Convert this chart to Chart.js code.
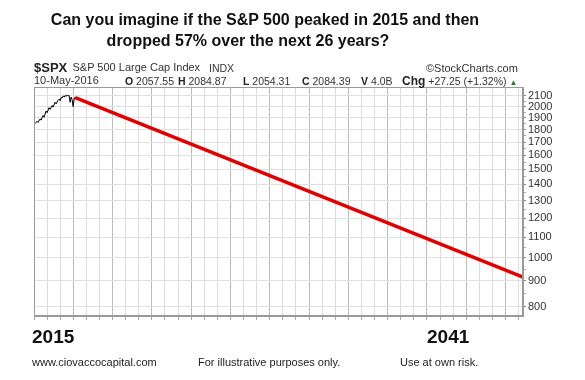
<!DOCTYPE html>
<html>
<head>
<meta charset="utf-8">
<script src="https://cdn.jsdelivr.net/npm/chart.js@4.4.1/dist/chart.umd.min.js"></script>
<style>
  html, body { margin: 0; padding: 0; background: #fff; }
  #wrap { position: relative; width: 585px; height: 380px; overflow: hidden; font-family: "Liberation Sans", Arial, sans-serif; }
  canvas { position: absolute; left: 0; top: 0; }
  .t { position: absolute; white-space: nowrap; line-height: 1; color: #111; }
  .b { font-weight: bold; }
  .h { color: #333; }
</style>
</head>
<body>
<div id="wrap">
  <canvas id="c" width="585" height="380"></canvas>
  <div class="t b" style="left:0;width:530px;text-align:center;top:11.5px;font-size:16px;">Can you imagine if the S&amp;P 500 peaked in 2015 and then</div>
  <div class="t b" style="left:0;width:496px;text-align:center;top:33px;font-size:16px;">dropped 57% over the next 26 years?</div>

  <div class="t b h" style="left:34px;top:60.5px;font-size:13px;color:#222;">$SPX</div>
  <div class="t h" style="left:72.5px;top:62px;font-size:11px;">S&amp;P 500 Large Cap Index</div>
  <div class="t h" style="left:209px;top:62.5px;font-size:10.5px;">INDX</div>
  <div class="t h" style="left:426px;top:62.5px;font-size:11px;">©StockCharts.com</div>

  <div class="t h" style="left:34px;top:75px;font-size:11px;">10-May-2016</div>
  <div class="t h" style="left:125px;top:75.5px;font-size:10.5px;"><b style="color:#222">O</b> 2057.55</div>
  <div class="t h" style="left:178px;top:75.5px;font-size:10.5px;"><b style="color:#222">H</b> 2084.87</div>
  <div class="t h" style="left:243px;top:75.5px;font-size:10.5px;"><b style="color:#222">L</b> 2054.31</div>
  <div class="t h" style="left:302px;top:75.5px;font-size:10.5px;"><b style="color:#222">C</b> 2084.39</div>
  <div class="t h" style="left:361px;top:75.5px;font-size:10.5px;"><b style="color:#222">V</b> 4.0B</div>
  <div class="t h" style="left:402px;top:74.5px;font-size:10.5px;"><b style="color:#222;font-size:12px;">Chg</b> +27.25 (+1.32%) <span style="color:#2a7a2a;font-size:8px;">▲</span></div>

  <div class="t b" style="left:32px;top:327px;font-size:19px;">2015</div>
  <div class="t b" style="left:427px;top:327px;font-size:19px;">2041</div>

  <div class="t" style="left:32px;top:357px;font-size:11px;color:#222;">www.ciovaccocapital.com</div>
  <div class="t" style="left:198px;top:357px;font-size:11px;color:#222;">For illustrative purposes only.</div>
  <div class="t" style="left:400px;top:357px;font-size:11px;color:#222;">Use at own risk.</div>
</div>
<script>
// ---- data ----
const histDates = [2014.06, 2014.17, 2014.23, 2014.35, 2014.40, 2014.52, 2014.58, 2014.69, 2014.75, 2014.86,
  2014.92, 2015.04, 2015.09, 2015.21, 2015.27, 2015.38, 2015.44, 2015.50, 2015.55, 2015.61,
  2015.67, 2015.73, 2015.78, 2015.84, 2015.90, 2015.96, 2016.01, 2016.07, 2016.13, 2016.19,
  2016.24, 2016.30, 2016.36];
const histValues = [1850, 1870, 1860, 1890, 1880, 1920, 1905, 1960, 1945, 1990,
  1975, 2010, 1995, 2040, 2025, 2060, 2070, 2055, 2085, 2080,
  2100, 2090, 2105, 2095, 2110, 2100, 2105, 2040, 2090, 2060,
  2000, 2070, 2090];
const projDates = [2016.36, 2042.0];
const projValues = [2084.39, 915];
const yTickValues = [2100, 2000, 1900, 1800, 1700, 1600, 1500, 1400, 1300, 1200, 1100, 1000, 900, 800];
const yMinorTickValues = [2050, 1950, 1850, 1750, 1650, 1550, 1450, 1350, 1250, 1150, 1050, 950, 850];
const xMin = 2014.0, xMax = 2042.0, xGridStep = 0.75;
const yMin = 766, yMax = 2188;

const hist = histDates.map((d, i) => ({ x: d, y: histValues[i] }));
const proj = projDates.map((d, i) => ({ x: d, y: projValues[i] }));

const frame = {
  id: 'frame',
  afterDraw(chart) {
    const a = chart.chartArea, c = chart.ctx;
    c.save();
    c.strokeStyle = '#9a9a9a';
    c.lineWidth = 1;
    c.strokeRect(Math.round(a.left) + 0.5, Math.round(a.top) + 0.5, Math.round(a.right - a.left) - 1, Math.round(a.bottom - a.top) - 1);
    c.restore();
  }
};

const isMajor = (v) => yTickValues.includes(v);

new Chart(document.getElementById('c'), {
  type: 'line',
  data: {
    datasets: [
      { data: proj, borderColor: '#e00000', borderWidth: 3.5, pointRadius: 0, tension: 0, order: 2 },
      { data: hist, borderColor: '#000', borderWidth: 1, pointRadius: 0, tension: 0, order: 1 }
    ]
  },
  options: {
    responsive: false,
    animation: false,
    events: [],
    layout: { padding: { left: 34, top: 87, right: 0, bottom: 64 } },
    plugins: { legend: { display: false }, tooltip: { enabled: false }, title: { display: false } },
    scales: {
      x: {
        type: 'linear', min: xMin, max: xMax,
        afterBuildTicks(scale) {
          const t = [];
          for (let v = xMin; v <= xMax + 1e-9; v += xGridStep) t.push({ value: v });
          scale.ticks = t;
        },
        afterFit(scale) { scale.height = 0; },
        ticks: { display: false },
        grid: {
          color: (ctx) => (ctx.index % 3 === 0 ? '#bdbdbd' : '#dcdcdc'),
          lineWidth: 1, drawTicks: true, tickLength: 4, tickColor: '#aaa'
        },
        border: { display: true, color: '#9a9a9a' }
      },
      y: {
        type: 'logarithmic', position: 'right', min: yMin, max: yMax,
        afterBuildTicks(scale) {
          scale.ticks = yTickValues.concat(yMinorTickValues).sort((a, b) => a - b).map(v => ({ value: v }));
        },
        afterFit(scale) { scale.width = 62; },
        ticks: {
          autoSkip: false,
          callback: (v) => (isMajor(v) ? String(v) : ''),
          color: '#333', padding: 2,
          font: { family: '"Liberation Sans", Arial, sans-serif', size: 11 }
        },
        grid: {
          color: (ctx) => (ctx.tick && isMajor(ctx.tick.value) ? '#e0e0e0' : 'rgba(0,0,0,0)'),
          lineWidth: 1, drawTicks: true,
          tickLength: 3,
          tickColor: (ctx) => (ctx.tick && isMajor(ctx.tick.value) ? '#888' : '#aaa')
        },
        border: { display: true, color: '#9a9a9a' }
      }
    }
  },
  plugins: [frame]
});
</script>
</body>
</html>
